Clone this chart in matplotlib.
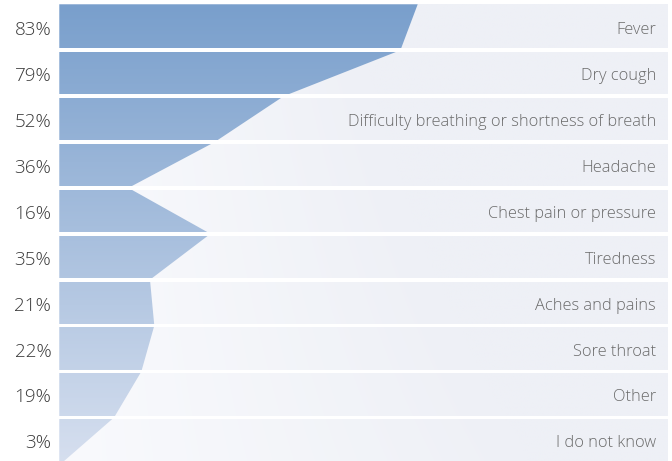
import numpy as np
import matplotlib
matplotlib.use("Agg")
import matplotlib.pyplot as plt
from matplotlib.patches import Polygon

plt.rcParams['font.family'] = ['Open Sans', 'DejaVu Sans']

# ---- data ----
categories = ["Fever", "Dry cough", "Difficulty breathing or shortness of breath",
              "Headache", "Chest pain or pressure", "Tiredness", "Aches and pains",
              "Sore throat", "Other", "I do not know"]
values = [83, 79, 52, 36, 16, 35, 21, 22, 19, 3]
value_labels = ["83%", "79%", "52%", "36%", "16%", "35%", "21%", "22%", "19%", "3%"]
# outline of the blue shape, read at each row boundary (top to bottom)
edge_pct = [83, 79, 52, 36, 16, 35, 21, 22, 19, 12.7, 0.5]

W, H = 672, 461
fig = plt.figure(figsize=(W / 100, H / 100), dpi=100)
fig.patch.set_facecolor("white")

left_px, right_px, top_px = 59.3, 668.0, 4.3
pitch = 45.9
n = len(categories)
bottom_px = top_px + pitch * n
ax = fig.add_axes([left_px / W, (H - bottom_px) / H,
                   (right_px - left_px) / W, (bottom_px - top_px) / H])
px_per_pct = 4.318
xmax = (right_px - left_px) / px_per_pct
ax.set_xlim(0, xmax)
ax.set_ylim(n, 0)
ax.axis("off")

# background gradient (light at left, grey-blue at right)
gx = np.linspace(0, 1, 300)
gy = np.linspace(0, 1, 60)
GX, GY = np.meshgrid(gx, gy)
c_left = np.array([249, 250, 253]) / 255
c_right = np.array([238, 240, 246]) / 255
tt = np.clip(GX * (1.3 + 0.8 * (1 - GY)), 0, 1)[..., None]
bg = c_left + (c_right - c_left) * tt
ax.imshow(bg, extent=[0, xmax, n, 0], aspect="auto", zorder=0, interpolation="bilinear")

# blue shape with vertical gradient
yb = np.arange(len(edge_pct))
verts = [(e, y) for e, y in zip(edge_pct, yb)] + [(0, yb[-1]), (0, yb[0])]
poly = Polygon(verts, closed=True, facecolor="none", edgecolor="none", transform=ax.transData)
ax.add_patch(poly)
c_top = np.array([121, 159, 204]) / 255
c_bot = np.array([214, 223, 239]) / 255
vy = np.linspace(0, 1, 200)[:, None, None]
blue = c_top + (c_bot - c_top) * vy
blue = np.repeat(blue, 2, axis=1)
im = ax.imshow(blue, extent=[0, xmax, n, 0], aspect="auto", zorder=1, interpolation="bilinear")
im.set_clip_path(poly)
ax.set_xlim(0, xmax)
ax.set_ylim(n, 0)

# white gaps between rows
gap = 3.6 / pitch
for i in range(1, n):
    ax.axhspan(i - gap / 2, i + gap / 2, color="white", zorder=2, lw=0)

# texts
for i, (cat, lab) in enumerate(zip(categories, value_labels)):
    yc = i + 0.5
    ax.annotate(cat, xy=(1, yc), xycoords=("axes fraction", "data"),
                xytext=(-12, -1), textcoords="offset pixels",
                ha="right", va="center_baseline", fontsize=11.8, fontweight="light",
                color="#6a6a6a", zorder=3)
    ax.annotate(lab, xy=(0, yc), xycoords=("axes fraction", "data"),
                xytext=(-8, -1), textcoords="offset pixels",
                ha="right", va="center_baseline", fontsize=13.6, fontweight="light",
                color="#3a3a3a", zorder=3, annotation_clip=False)

fig.savefig("out.png", dpi=100)
